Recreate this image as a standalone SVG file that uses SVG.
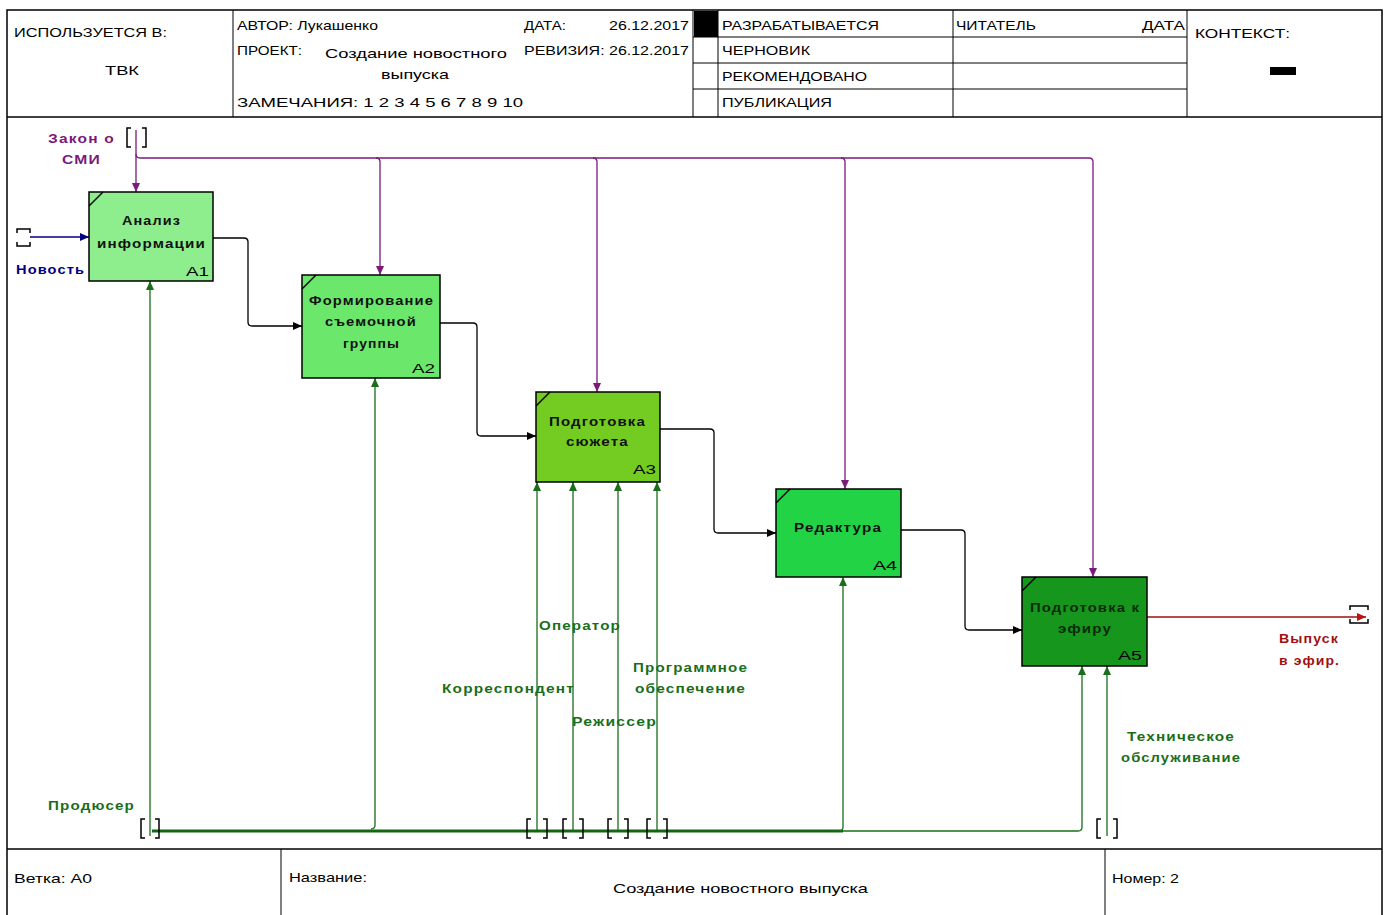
<svg xmlns="http://www.w3.org/2000/svg" width="1389" height="915" viewBox="0 0 1389 915">
<defs>
<style>
.hd{font-family:"Liberation Sans",Arial,sans-serif;font-size:13px;fill:#000}
.lb{font-family:"Liberation Sans",Arial,sans-serif;font-size:13px;font-weight:bold;letter-spacing:1px}
.frame{fill:none;stroke:#000;stroke-width:1.5}
.ln{fill:none;stroke:#000;stroke-width:1}
.bx{fill:none;stroke:#000;stroke-width:1.5}
.box{stroke:#000;stroke-width:1.5}
.ctl{fill:none;stroke:#7a1a7a;stroke-width:1.3}
.mec{fill:none;stroke:#1a6e1a;stroke-width:1.3}
.mecb{fill:none;stroke:#146614;stroke-width:3.2}
.out{fill:none;stroke:#000;stroke-width:1.3}
.inp{fill:none;stroke:#000080;stroke-width:1.3}
.red{fill:none;stroke:#a01010;stroke-width:1.3}
.tun{fill:none;stroke:#000;stroke-width:1.5}
</style>
<marker id="mC" markerUnits="userSpaceOnUse" markerWidth="10" markerHeight="8" refX="9" refY="4" orient="auto"><path d="M0,0 L9,4 L0,8 z" fill="#7a1a7a"/></marker>
<marker id="mM" markerUnits="userSpaceOnUse" markerWidth="10" markerHeight="8" refX="9" refY="4" orient="auto"><path d="M0,0 L9,4 L0,8 z" fill="#1a6e1a"/></marker>
<marker id="mO" markerUnits="userSpaceOnUse" markerWidth="10" markerHeight="8" refX="9" refY="4" orient="auto"><path d="M0,0 L9,4 L0,8 z" fill="#000"/></marker>
<marker id="mI" markerUnits="userSpaceOnUse" markerWidth="10" markerHeight="8" refX="9" refY="4" orient="auto"><path d="M0,0 L9,4 L0,8 z" fill="#000080"/></marker>
<marker id="mR" markerUnits="userSpaceOnUse" markerWidth="10" markerHeight="8" refX="9" refY="4" orient="auto"><path d="M0,0 L9,4 L0,8 z" fill="#c01010"/></marker>
</defs>
<rect width="1389" height="915" fill="#fff"/>

<g id="header">
<path class="frame" d="M7,916 V10 H1382 V916"/>
<line class="bx" x1="7" y1="117" x2="1382" y2="117"/>
<line class="ln" x1="233" y1="10" x2="233" y2="117"/>
<line class="ln" x1="693" y1="10" x2="693" y2="117"/>
<line class="ln" x1="718" y1="10" x2="718" y2="117"/>
<line class="ln" x1="953" y1="10" x2="953" y2="117"/>
<line class="ln" x1="1187" y1="10" x2="1187" y2="117"/>
<line class="ln" x1="693" y1="37" x2="1187" y2="37"/>
<line class="ln" x1="693" y1="63" x2="1187" y2="63"/>
<line class="ln" x1="693" y1="89" x2="1187" y2="89"/>
<rect x="694" y="11" width="24" height="26" fill="#000"/>
<rect x="1270" y="67" width="26" height="8" fill="#000"/>
<text class="hd" x="14" y="37" font-size="14" textLength="153" lengthAdjust="spacingAndGlyphs">ИСПОЛЬЗУЕТСЯ В:</text>
<text class="hd" x="105" y="75" font-size="14" textLength="34" lengthAdjust="spacingAndGlyphs">ТВК</text>
<text class="hd" x="237" y="30" textLength="141" lengthAdjust="spacingAndGlyphs">АВТОР: Лукашенко</text>
<text class="hd" x="524" y="30" textLength="42" lengthAdjust="spacingAndGlyphs">ДАТА:</text>
<text class="hd" x="609" y="30" textLength="80" lengthAdjust="spacingAndGlyphs">26.12.2017</text>
<text class="hd" x="237" y="55" textLength="65" lengthAdjust="spacingAndGlyphs">ПРОЕКТ:</text>
<text class="hd" x="325" y="58" textLength="182" lengthAdjust="spacingAndGlyphs">Создание новостного</text>
<text class="hd" x="381" y="79" textLength="68" lengthAdjust="spacingAndGlyphs">выпуска</text>
<text class="hd" x="524" y="55" textLength="165" lengthAdjust="spacingAndGlyphs">РЕВИЗИЯ: 26.12.2017</text>
<text class="hd" x="237" y="107" textLength="286" lengthAdjust="spacingAndGlyphs">ЗАМЕЧАНИЯ:  1  2  3  4  5  6  7  8  9  10</text>
<text class="hd" x="722" y="30" textLength="157" lengthAdjust="spacingAndGlyphs">РАЗРАБАТЫВАЕТСЯ</text>
<text class="hd" x="722" y="55" textLength="88" lengthAdjust="spacingAndGlyphs">ЧЕРНОВИК</text>
<text class="hd" x="722" y="81" textLength="145" lengthAdjust="spacingAndGlyphs">РЕКОМЕНДОВАНО</text>
<text class="hd" x="722" y="107" textLength="110" lengthAdjust="spacingAndGlyphs">ПУБЛИКАЦИЯ</text>
<text class="hd" x="956" y="30" textLength="80" lengthAdjust="spacingAndGlyphs">ЧИТАТЕЛЬ</text>
<text class="hd" x="1142" y="30" textLength="43" lengthAdjust="spacingAndGlyphs">ДАТА</text>
<text class="hd" x="1195" y="38" font-size="15" textLength="95" lengthAdjust="spacingAndGlyphs">КОНТЕКСТ:</text>
</g>

<g id="footer">
<line class="bx" x1="7" y1="849" x2="1382" y2="849"/>
<line class="ln" x1="281" y1="849" x2="281" y2="915"/>
<line class="ln" x1="1105" y1="849" x2="1105" y2="915"/>
<text class="hd" x="14" y="883" textLength="78" lengthAdjust="spacingAndGlyphs">Ветка:  A0</text>
<text class="hd" x="289" y="882" textLength="78" lengthAdjust="spacingAndGlyphs">Название:</text>
<text class="hd" x="613" y="893" textLength="255" lengthAdjust="spacingAndGlyphs">Создание новостного выпуска</text>
<text class="hd" x="1112" y="883" textLength="67" lengthAdjust="spacingAndGlyphs">Номер: 2</text>
</g>

<g id="connectors">
<path class="ctl" d="M136,130 V192" marker-end="url(#mC)"/>
<path class="ctl" d="M136,154 Q136,158 140,158 H1089 Q1093,158 1093,162 V577" marker-end="url(#mC)"/>
<path class="ctl" d="M376,158 Q380,158 380,162 V275" marker-end="url(#mC)"/>
<path class="ctl" d="M593,158 Q597,158 597,162 V392" marker-end="url(#mC)"/>
<path class="ctl" d="M841,158 Q845,158 845,162 V489" marker-end="url(#mC)"/>
<path class="inp" d="M30,237 H89" marker-end="url(#mI)"/>
<path class="out" d="M213,238 H244 Q248,238 248,242 V322 Q248,326 252,326 H302" marker-end="url(#mO)"/>
<path class="out" d="M440,323 H473 Q477,323 477,327 V432 Q477,436 481,436 H536" marker-end="url(#mO)"/>
<path class="out" d="M660,429 H710 Q714,429 714,433 V529 Q714,533 718,533 H776" marker-end="url(#mO)"/>
<path class="out" d="M901,530 H961 Q965,530 965,534 V626 Q965,630 969,630 H1022" marker-end="url(#mO)"/>
<path class="red" d="M1147,617 H1366" marker-end="url(#mR)"/>
<path class="mec" d="M150,836 V281" marker-end="url(#mM)"/>
<path class="mecb" d="M152,831 H843"/>
<path class="mec" d="M371,829 Q375,829 375,825 V378" marker-end="url(#mM)"/>
<path class="mec" d="M839,831 Q843,831 843,827 V577" marker-end="url(#mM)"/>
<path class="mec" d="M843,831 H1078 Q1082,831 1082,827 V666" marker-end="url(#mM)"/>
<path class="mec" d="M537,830 V482" marker-end="url(#mM)"/>
<path class="mec" d="M573,830 V482" marker-end="url(#mM)"/>
<path class="mec" d="M618,830 V482" marker-end="url(#mM)"/>
<path class="mec" d="M657,830 V482" marker-end="url(#mM)"/>
<path class="mec" d="M1107,836 V666" marker-end="url(#mM)"/>
<path class="tun" d="M131,128 H127 V147 H131 M142,128 H146 V147 H142"/>
<path class="tun" d="M17,233 V229 H30 V233 M17,242 V246 H30 V242"/>
<path class="tun" d="M1350,610 V606 H1368 V610 M1350,619 V623 H1368 V619"/>
<path class="tun" d="M145,819 H141 V838 H145 M155,819 H159 V838 H155"/>
<path class="tun" d="M531,819 H527 V838 H531 M543,819 H547 V838 H543"/>
<path class="tun" d="M567,819 H563 V838 H567 M579,819 H583 V838 H579"/>
<path class="tun" d="M612,819 H608 V838 H612 M624,819 H628 V838 H624"/>
<path class="tun" d="M651,819 H647 V838 H651 M663,819 H667 V838 H663"/>
<path class="tun" d="M1101,819 H1097 V838 H1101 M1113,819 H1117 V838 H1113"/>
<text class="lb" fill="#7a1a7a" x="48" y="143" textLength="67" lengthAdjust="spacingAndGlyphs">Закон о</text>
<text class="lb" fill="#7a1a7a" x="62" y="164" textLength="39" lengthAdjust="spacingAndGlyphs">СМИ</text>
<text class="lb" fill="#000080" x="16" y="274" textLength="69" lengthAdjust="spacingAndGlyphs">Новость</text>
<text class="lb" fill="#1a6e1a" x="48" y="810" textLength="87" lengthAdjust="spacingAndGlyphs">Продюсер</text>
<text class="lb" fill="#1a6e1a" x="539" y="630" textLength="82" lengthAdjust="spacingAndGlyphs">Оператор</text>
<text class="lb" fill="#1a6e1a" x="442" y="693" textLength="133" lengthAdjust="spacingAndGlyphs">Корреспондент</text>
<text class="lb" fill="#1a6e1a" x="572" y="726" textLength="85" lengthAdjust="spacingAndGlyphs">Режиссер</text>
<text class="lb" fill="#1a6e1a" x="633" y="672" textLength="115" lengthAdjust="spacingAndGlyphs">Программное</text>
<text class="lb" fill="#1a6e1a" x="635" y="693" textLength="111" lengthAdjust="spacingAndGlyphs">обеспечение</text>
<text class="lb" fill="#1a6e1a" x="1127" y="741" textLength="108" lengthAdjust="spacingAndGlyphs">Техническое</text>
<text class="lb" fill="#1a6e1a" x="1121" y="762" textLength="120" lengthAdjust="spacingAndGlyphs">обслуживание</text>
<text class="lb" fill="#a01010" x="1279" y="643" textLength="60" lengthAdjust="spacingAndGlyphs">Выпуск</text>
<text class="lb" fill="#a01010" x="1279" y="665" textLength="61" lengthAdjust="spacingAndGlyphs">в эфир.</text>
</g>

<g id="A1">
<rect class="box" x="89" y="192" width="124" height="89" fill="#8eee8e"/>
<line class="bx" x1="89" y1="206" x2="103" y2="192"/>
<text class="lb" fill="#111" x="122" y="225" textLength="59" lengthAdjust="spacingAndGlyphs">Анализ</text>
<text class="lb" fill="#111" x="97" y="248" textLength="109" lengthAdjust="spacingAndGlyphs">информации</text>
<text class="hd" x="186" y="276" font-size="15" textLength="23" lengthAdjust="spacingAndGlyphs">A1</text>
</g>

<g id="A2">
<rect class="box" x="302" y="275" width="138" height="103" fill="#6be86b"/>
<line class="bx" x1="302" y1="289" x2="316" y2="275"/>
<text class="lb" fill="#111" x="309" y="305" textLength="125" lengthAdjust="spacingAndGlyphs">Формирование</text>
<text class="lb" fill="#111" x="325" y="326" textLength="92" lengthAdjust="spacingAndGlyphs">съемочной</text>
<text class="lb" fill="#111" x="343" y="348" textLength="57" lengthAdjust="spacingAndGlyphs">группы</text>
<text class="hd" x="412" y="373" font-size="15" textLength="23" lengthAdjust="spacingAndGlyphs">A2</text>
</g>

<g id="A3">
<rect class="box" x="536" y="392" width="124" height="90" fill="#74cc22"/>
<line class="bx" x1="536" y1="406" x2="550" y2="392"/>
<text class="lb" fill="#111" x="549" y="426" textLength="97" lengthAdjust="spacingAndGlyphs">Подготовка</text>
<text class="lb" fill="#111" x="566" y="446" textLength="63" lengthAdjust="spacingAndGlyphs">сюжета</text>
<text class="hd" x="633" y="474" font-size="15" textLength="23" lengthAdjust="spacingAndGlyphs">A3</text>
</g>

<g id="A4">
<rect class="box" x="776" y="489" width="125" height="88" fill="#22d445"/>
<line class="bx" x1="776" y1="503" x2="790" y2="489"/>
<text class="lb" fill="#111" x="794" y="532" textLength="88" lengthAdjust="spacingAndGlyphs">Редактура</text>
<text class="hd" x="873" y="570" font-size="15" textLength="24" lengthAdjust="spacingAndGlyphs">A4</text>
</g>

<g id="A5">
<rect class="box" x="1022" y="577" width="125" height="89" fill="#16961c"/>
<line class="bx" x1="1022" y1="591" x2="1036" y2="577"/>
<text class="lb" fill="#0a2a0a" x="1030" y="612" textLength="110" lengthAdjust="spacingAndGlyphs">Подготовка к</text>
<text class="lb" fill="#0a2a0a" x="1058" y="633" textLength="54" lengthAdjust="spacingAndGlyphs">эфиру</text>
<text class="hd" x="1118" y="660" font-size="15" fill="#0a2a0a" textLength="24" lengthAdjust="spacingAndGlyphs">A5</text>
</g>
</svg>
